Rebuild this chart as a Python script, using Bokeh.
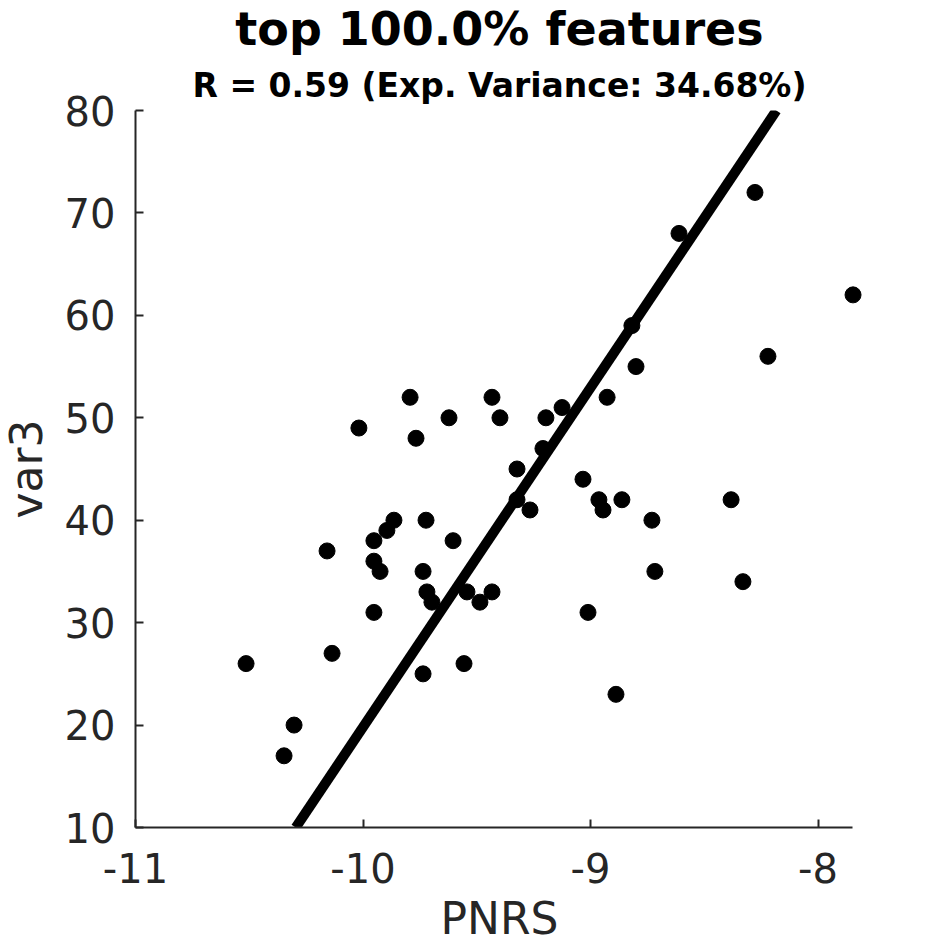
import numpy as np
from bokeh.plotting import figure
from bokeh.models import Range1d, FixedTicker, Title, PrintfTickFormatter
from bokeh.embed import file_html
from bokeh.resources import INLINE

# ---- data ----
pnrs = [-10.514, -10.347, -10.303, -10.136, -10.158, -9.952, -10.018, -9.952,
        -9.952, -9.925, -9.895, -9.864, -9.793, -9.767, -9.736, -9.736,
        -9.723, -9.719, -9.697, -9.622, -9.604, -9.556, -9.543, -9.486,
        -9.433, -9.433, -9.398, -9.323, -9.323, -9.266, -9.209, -9.196,
        -9.125, -9.033, -9.011, -8.963, -8.945, -8.927, -8.888, -8.862,
        -8.818, -8.800, -8.730, -8.717, -8.611, -8.382, -8.330, -8.277,
        -8.220, -7.846]
var3 = [26, 17, 20, 27, 37, 31, 49, 38,
        36, 35, 39, 40, 52, 48, 25, 35,
        40, 33, 32, 50, 38, 26, 33, 32,
        52, 33, 50, 45, 42, 41, 47, 50,
        51, 44, 31, 42, 41, 52, 23, 42,
        59, 55, 40, 35, 68, 42, 34, 72,
        56, 62]
x_ticks = [-11, -10, -9, -8]
y_ticks = [10, 20, 30, 40, 50, 60, 70, 80]
x_limits = [-11, -7.85]
y_limits = [10, 80]
title_text = "top 100.0% features"
subtitle_text = "R = 0.59 (Exp. Variance: 34.68%)"
x_label = "PNRS"
y_label = "var3"

# regression line (PNRS regressed on var3, drawn across the y limits)
coef = np.polyfit(var3, pnrs, 1)
fit_y = np.array(y_limits, dtype=float)
fit_x = coef[0] * fit_y + coef[1]

FONT = "DejaVu Sans"
AX = "#262626"
px_per_x = 227.5
x_pad = 0.05  # a bit of room so the rightmost marker is not clipped
frame_w = int(round((x_limits[1] + x_pad - x_limits[0]) * px_per_x))

p = figure(frame_width=frame_w, frame_height=717,
           x_range=Range1d(x_limits[0], x_limits[1] + x_pad),
           y_range=Range1d(y_limits[0], y_limits[1]),
           output_backend="svg", toolbar_location=None,
           min_border=0, min_border_left=0, min_border_right=8,
           min_border_top=0, min_border_bottom=0,
           background_fill_color="white", border_fill_color="white")
p.styles = {"margin-left": "-3px", "margin-top": "-3px"}
p.outline_line_color = None
p.grid.visible = False

p.scatter(pnrs, var3, size=16, color="black", line_color="black")
p.line(fit_x, fit_y, line_width=10, color="black")

for ax in (p.xaxis[0], p.yaxis[0]):
    ax.axis_line_color = AX
    ax.axis_line_width = 2
    ax.major_tick_line_color = AX
    ax.major_tick_line_width = 2
    ax.major_tick_in = 8
    ax.major_tick_out = 0
    ax.minor_tick_line_color = None
    ax.major_label_text_font = FONT
    ax.major_label_text_font_size = "40px"
    ax.major_label_text_color = AX
    ax.axis_label_text_font = FONT
    ax.axis_label_text_font_size = "44px"
    ax.axis_label_text_color = AX
    ax.axis_label_text_font_style = "normal"
    ax.formatter = PrintfTickFormatter(format="%d")

p.xaxis[0].ticker = FixedTicker(ticks=x_ticks)
p.yaxis[0].ticker = FixedTicker(ticks=y_ticks)
p.xaxis[0].bounds = tuple(x_limits)
p.yaxis[0].bounds = tuple(y_limits)
p.xaxis[0].major_label_standoff = 25
p.yaxis[0].major_label_standoff = 20
p.xaxis[0].axis_label = x_label
p.yaxis[0].axis_label = y_label
p.xaxis[0].axis_label_standoff = 7
p.yaxis[0].axis_label_standoff = 10

p.add_layout(Title(text=subtitle_text, align="center", text_font=FONT,
                   text_font_size="33px", text_font_style="bold",
                   text_color="black", standoff=11), "above")
p.add_layout(Title(text=title_text, align="center", text_font=FONT,
                   text_font_size="46px", text_font_style="bold",
                   text_color="black", standoff=5), "above")

open("out.html", "w").write(file_html(p, INLINE))
